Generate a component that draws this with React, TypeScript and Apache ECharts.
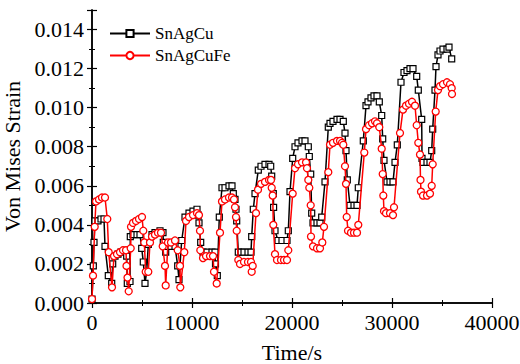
import React, { useEffect, useRef } from "react";
import * as echarts from "echarts";

const seriesNames = ["SnAgCu", "SnAgCuFe"];

const snAgCu: [number, number][] = [
  [0, 0.0002], [130, 0.0019], [200, 0.0031], [300, 0.0042], [600, 0.0042], [900, 0.0043], [1200, 0.0043],
  [1300, 0.0029], [1630, 0.0014], [1970, 0.001], [2070, 0.002], [2300, 0.0024], [2600, 0.0025], [2900, 0.0026],
  [3300, 0.0027], [3470, 0.0024], [3530, 0.001], [3800, 0.0011], [3830, 0.0034], [4100, 0.0035], [4500, 0.0035],
  [4800, 0.0035], [4970, 0.0028], [5130, 0.0021], [5300, 0.001], [5470, 0.0016], [5630, 0.003], [6000, 0.0035],
  [6300, 0.0036], [6800, 0.0037], [7100, 0.0036], [7130, 0.0031], [7370, 0.0026], [7500, 0.0029], [7900, 0.0029],
  [8300, 0.0029], [8570, 0.0019], [8700, 0.0012], [8970, 0.0032], [9300, 0.0044], [9700, 0.0046], [10100, 0.0047],
  [10500, 0.0048], [10630, 0.0045], [10700, 0.0041], [10870, 0.0031], [11100, 0.0026], [11500, 0.0026],
  [12000, 0.0026], [12300, 0.0026], [12350, 0.002], [12530, 0.0014], [12730, 0.0044], [13000, 0.0059],
  [13300, 0.0059], [13700, 0.006], [14000, 0.006], [14130, 0.0056], [14300, 0.0053], [14400, 0.0048],
  [14470, 0.0042], [14630, 0.0026], [14900, 0.0026], [15200, 0.0026], [15600, 0.0026], [15900, 0.0026],
  [15970, 0.0034], [16130, 0.0048], [16300, 0.0056], [16630, 0.0068], [16900, 0.007], [17300, 0.0071],
  [17700, 0.0071], [17870, 0.007], [17970, 0.0065], [18130, 0.0056], [18160, 0.0049], [18300, 0.0037],
  [18600, 0.0032], [19000, 0.0032], [19500, 0.0032], [19630, 0.0037], [19800, 0.0057], [20070, 0.0074],
  [20300, 0.008], [20600, 0.0082], [21000, 0.0083], [21300, 0.0083], [21630, 0.008], [21730, 0.0075],
  [21870, 0.0066], [21970, 0.0046], [22100, 0.0041], [22500, 0.0041], [22800, 0.0041], [22970, 0.0044],
  [23300, 0.0062], [23630, 0.009], [23800, 0.0092], [24100, 0.0093], [24500, 0.0094], [24800, 0.0094],
  [25130, 0.0093], [25300, 0.0087], [25400, 0.0078], [25530, 0.0063], [25800, 0.005], [26200, 0.005],
  [26500, 0.005], [26630, 0.0059], [27130, 0.0083], [27400, 0.0101], [27600, 0.0103], [27900, 0.0105],
  [28200, 0.0106], [28500, 0.0106], [28730, 0.0103], [28970, 0.0096], [29070, 0.0084], [29200, 0.0073],
  [29500, 0.0062], [29800, 0.0062], [30100, 0.0062], [30300, 0.0072], [30530, 0.0081], [30900, 0.0113],
  [31200, 0.0118], [31500, 0.0119], [31800, 0.012], [32100, 0.012], [32470, 0.0116], [32630, 0.0109],
  [32970, 0.0094], [33000, 0.0074], [33100, 0.0072], [33500, 0.0072], [33800, 0.0072], [33970, 0.0078],
  [34070, 0.0089], [34300, 0.0109], [34400, 0.0121], [34600, 0.0127], [34800, 0.0129], [35100, 0.013],
  [35500, 0.013], [35700, 0.0131], [35970, 0.0125],
];

const snAgCuFe: [number, number][] = [
  [0, 0.0002], [100, 0.0014], [270, 0.0039], [400, 0.0052], [700, 0.0053], [1000, 0.0054], [1300, 0.0054],
  [1530, 0.0043], [1670, 0.0026], [2000, 0.0008], [2200, 0.0024], [2500, 0.0025], [2800, 0.0026], [3100, 0.0027],
  [3400, 0.0027], [3450, 0.0019], [3550, 0.0013], [3670, 0.0006], [3870, 0.0028], [3900, 0.0039], [4100, 0.0041],
  [4400, 0.0042], [4700, 0.0043], [5000, 0.0044], [5130, 0.0037], [5230, 0.0031], [5370, 0.0016], [5630, 0.0016],
  [5800, 0.0031], [6000, 0.0034], [6300, 0.0035], [6600, 0.0036], [6900, 0.0036], [7070, 0.0029], [7300, 0.0019],
  [7370, 0.0009], [7600, 0.0031], [7900, 0.0031], [8300, 0.0032], [8570, 0.0027], [8800, 0.0019], [8830, 0.0008],
  [9230, 0.0026], [9400, 0.0042], [9700, 0.0044], [10100, 0.0045], [10500, 0.0046], [10700, 0.0045],
  [10800, 0.0037], [10830, 0.0027], [11100, 0.0023], [11400, 0.0024], [11800, 0.0024], [12100, 0.0024],
  [12200, 0.0016], [12470, 0.001], [12800, 0.0036], [13000, 0.0052], [13300, 0.0053], [13700, 0.0054],
  [14000, 0.0054], [14200, 0.0053], [14300, 0.0049], [14400, 0.0044], [14470, 0.0037], [14630, 0.0022],
  [14800, 0.002], [15200, 0.0021], [15600, 0.0021], [15900, 0.0021], [15970, 0.0016], [16070, 0.0019],
  [16400, 0.0046], [16600, 0.0058], [16900, 0.0061], [17300, 0.0062], [17700, 0.0063], [17900, 0.0063],
  [17970, 0.0059], [18070, 0.0055], [18130, 0.004], [18300, 0.0025], [18500, 0.0022], [18900, 0.0022],
  [19200, 0.0022], [19500, 0.0022], [19630, 0.0027], [20070, 0.0056], [20300, 0.0069], [20600, 0.0071],
  [21000, 0.0072], [21400, 0.0072], [21500, 0.0069], [21630, 0.0063], [21730, 0.0059], [21870, 0.005],
  [21900, 0.0034], [22100, 0.0029], [22500, 0.0028], [22800, 0.0028], [23030, 0.0031], [23200, 0.0039],
  [23630, 0.0067], [23800, 0.0081], [24100, 0.0082], [24500, 0.0083], [24800, 0.0083], [25000, 0.0082],
  [25130, 0.0081], [25300, 0.007], [25400, 0.0061], [25470, 0.0044], [25600, 0.0037], [25900, 0.0036],
  [26200, 0.0036], [26500, 0.0036], [26630, 0.004], [27230, 0.0077], [27400, 0.0089], [27700, 0.0091],
  [28000, 0.0092], [28300, 0.0093], [28500, 0.0092], [28730, 0.009], [28970, 0.0079], [29070, 0.0066],
  [29130, 0.0055], [29200, 0.0047], [29400, 0.0046], [29800, 0.0046], [30100, 0.0045], [30200, 0.0049],
  [30800, 0.0087], [31100, 0.0099], [31400, 0.0101], [31700, 0.0102], [32000, 0.0103], [32300, 0.0101],
  [32470, 0.0091], [32630, 0.0082], [32800, 0.0076], [32850, 0.0063], [32900, 0.0057], [33100, 0.0055],
  [33500, 0.0055], [33800, 0.0056], [33970, 0.006], [34070, 0.0071], [34370, 0.0098], [34600, 0.0109],
  [34800, 0.0111], [35100, 0.0112], [35500, 0.0113], [35800, 0.0112], [35970, 0.011], [36000, 0.0107],
];

const xTicks = { min: 0, max: 40000, interval: 10000 };
const yTicks = { min: 0, max: 0.015, interval: 0.002 };

const FONT = "'Liberation Serif', 'Times New Roman', serif";

export default function App() {
  const ref = useRef<HTMLDivElement>(null);
  useEffect(() => {
    if (!ref.current) return;
    const chart = echarts.init(ref.current, undefined, { renderer: "svg" });
    const axisLine = { show: true, lineStyle: { color: "#000", width: 1.5 } };
    const tick = { show: true, inside: true, length: 5, lineStyle: { color: "#000", width: 1.2 } };
    const minor = { show: true, splitNumber: 2, length: 3, lineStyle: { color: "#000", width: 1 } };
    const labelText = { fontFamily: FONT, fontSize: 22, color: "#000" };
    chart.setOption({
      animation: false,
      backgroundColor: "#fff",
      textStyle: { fontFamily: FONT },
      grid: { left: 92, right: 28, top: 10, bottom: 61, containLabel: false, outerBoundsMode: "none" },
      legend: {
        orient: "vertical",
        left: 104,
        top: 20,
        itemWidth: 40,
        itemHeight: 9,
        itemGap: 5,
        textStyle: { fontFamily: FONT, fontSize: 17, color: "#000" },
        data: seriesNames,
      },
      xAxis: [
        {
          type: "value",
          ...xTicks,
          name: "Time/s",
          nameLocation: "middle",
          nameGap: 38,
          nameTextStyle: labelText,
          axisLine,
          axisTick: tick,
          minorTick: minor,
          splitLine: { show: false },
          axisLabel: { ...labelText, margin: 8, formatter: (v: number) => String(v) },
        },
        {
          type: "value",
          ...xTicks,
          position: "top",
          axisLine,
          axisTick: tick,
          minorTick: minor,
          splitLine: { show: false },
          axisLabel: { show: false },
        },
      ],
      yAxis: [
        {
          type: "value",
          ...yTicks,
          name: "Von Mises Strain",
          nameLocation: "middle",
          nameGap: 66,
          nameTextStyle: labelText,
          axisLine,
          axisTick: tick,
          minorTick: minor,
          splitLine: { show: false },
          axisLabel: {
            ...labelText,
            margin: 8,
            showMaxLabel: false,
            formatter: (v: number) => v.toFixed(3),
          },
        },
        {
          type: "value",
          ...yTicks,
          position: "right",
          axisLine,
          axisTick: tick,
          minorTick: minor,
          splitLine: { show: false },
          axisLabel: { show: false },
        },
      ],
      series: [
        {
          name: seriesNames[0],
          type: "line",
          data: snAgCu,
          symbol: "rect",
          symbolSize: 6,
          showAllSymbol: true,
          lineStyle: { color: "#000", width: 1.5 },
          itemStyle: { color: "#fff", borderColor: "#000", borderWidth: 1.2 },
          z: 2,
        },
        {
          name: seriesNames[1],
          type: "line",
          data: snAgCuFe,
          symbol: "circle",
          symbolSize: 7,
          showAllSymbol: true,
          lineStyle: { color: "#ff0000", width: 1.5 },
          itemStyle: { color: "#fff", borderColor: "#ff0000", borderWidth: 1.3 },
          z: 3,
        },
      ],
    });
    return () => chart.dispose();
  }, []);
  return (
    <div
      ref={ref}
      style={{ position: "fixed", left: 0, top: 0, width: 520, height: 364, background: "#fff" }}
    />
  );
}
